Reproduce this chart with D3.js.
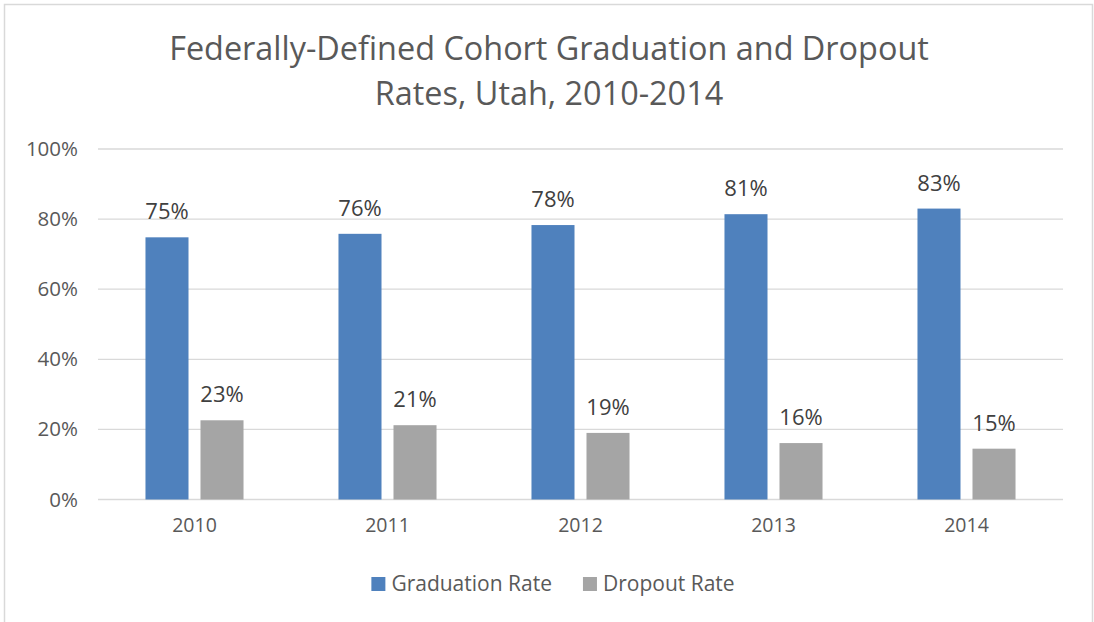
<!DOCTYPE html>
<html>
<head>
<meta charset="utf-8">
<script src="https://cdn.jsdelivr.net/npm/d3@7"></script>
<style>
  html, body { margin: 0; padding: 0; background: #fff; }
  svg { display: block; font-family: "Open Sans", sans-serif; }
</style>
</head>
<body>
<svg id="chart"></svg>
<script>
// chart values
const years = ["2010", "2011", "2012", "2013", "2014"];
const seriesNames = ["Graduation Rate", "Dropout Rate"];
const graduation = [0.75, 0.76, 0.78, 0.81, 0.83];
const graduationBars = [0.748, 0.758, 0.783, 0.814, 0.830];
const dropout = [0.23, 0.21, 0.19, 0.16, 0.15];
const dropoutBars = [0.226, 0.212, 0.190, 0.161, 0.145];
const yTicks = [0, 0.2, 0.4, 0.6, 0.8, 1.0];
const titleLines = ["Federally-Defined Cohort Graduation and Dropout", "Rates, Utah, 2010-2014"];
const colors = ["#4F81BD", "#A5A5A5"];

const width = 1094, height = 622;
const margin = { top: 149, right: 31, bottom: 122, left: 98 };

const svg = d3.select("#chart").attr("width", width).attr("height", height);

// outer frame
svg.append("rect")
  .attr("x", 4.5).attr("y", 4.5)
  .attr("width", 1088).attr("height", 620)
  .attr("fill", "#fff")
  .attr("stroke", "#d9d9d9")
  .attr("stroke-width", 1.5);

// title
svg.append("g").selectAll("text")
  .data(titleLines)
  .enter().append("text")
  .attr("x", 549)
  .attr("y", (d, i) => 60 + i * 45)
  .attr("text-anchor", "middle")
  .attr("fill", "#595959")
  .style("font-size", "32.4px")
  .text(d => d);

const x0 = d3.scaleBand()
  .domain(years)
  .range([margin.left, width - margin.right])
  .paddingInner(0.492)
  .paddingOuter(0.246);

const x1 = d3.scaleBand()
  .domain(seriesNames)
  .range([0, x0.bandwidth()])
  .paddingInner(0.218);

const y = d3.scaleLinear()
  .domain([0, 1])
  .range([height - margin.bottom - 0.5, margin.top]);

// gridlines
svg.append("g").selectAll("line")
  .data(yTicks)
  .enter().append("line")
  .attr("x1", margin.left)
  .attr("x2", width - margin.right)
  .attr("y1", d => y(d))
  .attr("y2", d => y(d))
  .attr("stroke", "#d9d9d9")
  .attr("stroke-width", 1.3);

// y axis labels
const yAxis = d3.axisLeft(y).tickValues(yTicks).tickFormat(d3.format(".0%")).tickSize(0).tickPadding(0);
const yg = svg.append("g")
  .attr("transform", "translate(" + (margin.left - 20) + ",0)")
  .call(yAxis);
yg.select(".domain").remove();
yg.selectAll("text")
  .attr("fill", "#595959")
  .style("font-size", "20.5px")
  .style("font-family", "Open Sans, sans-serif");

// x axis labels
const xAxis = d3.axisBottom(x0).tickSize(0).tickPadding(0);
const xg = svg.append("g")
  .attr("transform", "translate(0," + (height - margin.bottom + 18) + ")")
  .call(xAxis);
xg.select(".domain").remove();
xg.selectAll("text")
  .attr("fill", "#595959")
  .style("font-size", "19.5px")
  .style("font-family", "Open Sans, sans-serif");

// bars
const rows = years.map((yr, i) => ({
  year: yr,
  values: [
    { name: seriesNames[0], bar: graduationBars[i], label: graduation[i] },
    { name: seriesNames[1], bar: dropoutBars[i], label: dropout[i] }
  ]
}));

const groups = svg.append("g").selectAll("g")
  .data(rows)
  .enter().append("g")
  .attr("transform", d => "translate(" + x0(d.year) + ",0)");

groups.selectAll("rect")
  .data(d => d.values)
  .enter().append("rect")
  .attr("x", d => x1(d.name))
  .attr("width", x1.bandwidth())
  .attr("y", d => y(d.bar))
  .attr("height", d => y(0) - y(d.bar))
  .attr("fill", (d, i) => colors[i]);

groups.selectAll("text")
  .data(d => d.values)
  .enter().append("text")
  .attr("x", d => x1(d.name) + x1.bandwidth() / 2)
  .attr("y", d => y(d.bar) - 18)
  .attr("text-anchor", "middle")
  .attr("fill", "#404040")
  .style("font-size", "22px")
  .text(d => d3.format(".0%")(d.label));

// legend
const legend = svg.append("g");
const items = legend.selectAll("g")
  .data(seriesNames)
  .enter().append("g");
items.append("rect")
  .attr("width", 14).attr("height", 14)
  .attr("y", 577)
  .attr("fill", (d, i) => colors[i]);
items.append("text")
  .attr("x", 20)
  .attr("y", 591)
  .attr("fill", "#595959")
  .style("font-size", "21px")
  .text(d => d);

let widths = [];
items.each(function() { widths.push(this.querySelector("text").getComputedTextLength() + 20); });
const gap = 31;
const total = d3.sum(widths) + gap * (widths.length - 1);
let cx = 553 - total / 2;
items.attr("transform", (d, i) => {
  const t = "translate(" + cx + ",0)";
  cx += widths[i] + gap;
  return t;
});
</script>
</body>
</html>
